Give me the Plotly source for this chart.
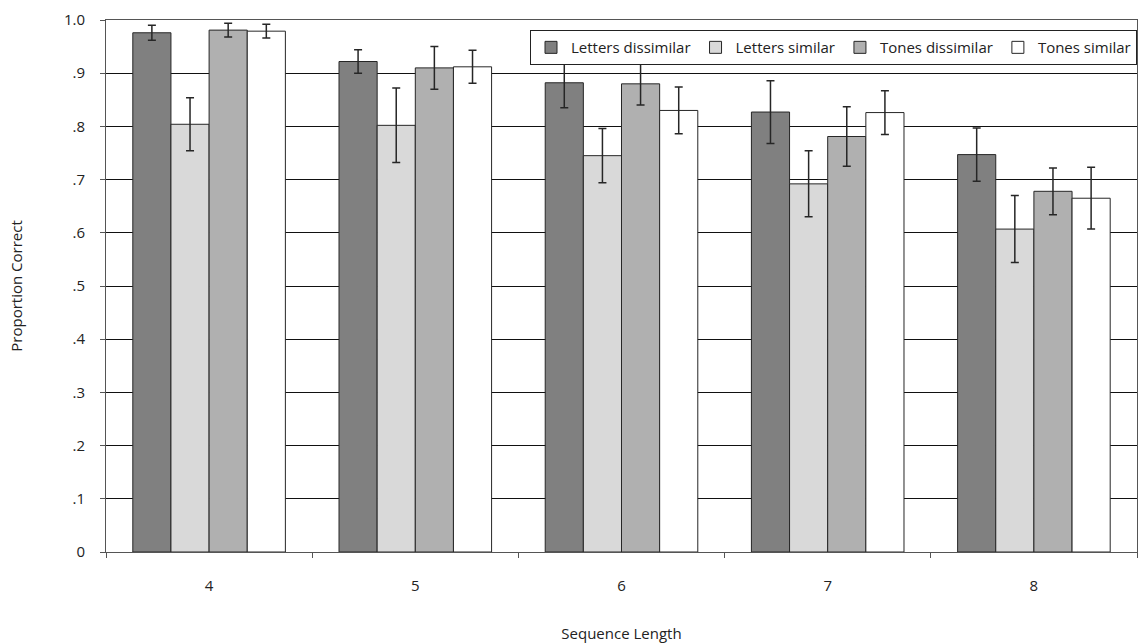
import plotly.graph_objects as go

categories = ["4", "5", "6", "7", "8"]
series_names = ["Letters dissimilar", "Letters similar", "Tones dissimilar", "Tones similar"]
letters_dissimilar = [0.976, 0.922, 0.882, 0.827, 0.747]
letters_similar = [0.804, 0.802, 0.745, 0.692, 0.607]
tones_dissimilar = [0.981, 0.910, 0.880, 0.781, 0.678]
tones_similar = [0.979, 0.912, 0.830, 0.826, 0.665]
err_letters_dissimilar = [0.014, 0.022, 0.047, 0.059, 0.050]
err_letters_similar = [0.050, 0.070, 0.051, 0.062, 0.063]
err_tones_dissimilar = [0.013, 0.040, 0.040, 0.056, 0.044]
err_tones_similar = [0.013, 0.031, 0.044, 0.041, 0.058]
y_tick_vals = [0, 0.1, 0.2, 0.3, 0.4, 0.5, 0.6, 0.7, 0.8, 0.9, 1.0]
y_tick_text = ["0", ".1", ".2", ".3", ".4", ".5", ".6", ".7", ".8", ".9", "1.0"]

values = [letters_dissimilar, letters_similar, tones_dissimilar, tones_similar]
errors = [err_letters_dissimilar, err_letters_similar, err_tones_dissimilar, err_tones_similar]
colors = ["#808080", "#d9d9d9", "#b0b0b0", "#ffffff"]

FONT = "Open Sans, DejaVu Sans, sans-serif"

fig = go.Figure()
for name, v, e, c in zip(series_names, values, errors, colors):
    fig.add_trace(go.Bar(
        x=categories, y=v, name=name,
        marker=dict(color=c, line=dict(color="#262626", width=1)),
        error_y=dict(type="data", array=e, visible=True, color="#262626",
                     thickness=1.5, width=4),
    ))

fig.update_layout(
    width=1139, height=643,
    barmode="group", bargap=0.26, bargroupgap=0,
    paper_bgcolor="white", plot_bgcolor="white",
    margin=dict(l=106, r=2, t=20, b=91, autoexpand=False),
    font=dict(family=FONT, size=15, color="#222222"),
    showlegend=True,
    legend=dict(
        orientation="h", x=1, xanchor="right", y=0.981, yanchor="top",
        bgcolor="white", bordercolor="#222222", borderwidth=1,
        font=dict(family=FONT, size=15, color="#222222"),
        itemwidth=30, tracegroupgap=0,
    ),
    xaxis=dict(
        type="category", showgrid=False, showline=True, linecolor="#555555", linewidth=1,
        ticks="outside", ticklen=5, tickcolor="#555555", tickson="boundaries",
        ticklabelstandoff=20, mirror=True,
        title=dict(text="Sequence Length", standoff=38, font=dict(size=15)),
    ),
    yaxis=dict(
        range=[0, 1.0], tickvals=y_tick_vals, ticktext=y_tick_text,
        showgrid=True, gridcolor="#111111", gridwidth=1, zeroline=False,
        showline=True, linecolor="#555555", linewidth=1, mirror=True,
        ticks="outside", ticklen=5, tickcolor="#555555", ticklabelstandoff=12,
        title=dict(text="Proportion Correct", standoff=37, font=dict(size=15)),
    ),
)

fig.write_html(
    "out.html",
    config={"displayModeBar": False},
    post_script="document.body.style.margin='0';document.body.style.overflow='hidden';",
)
